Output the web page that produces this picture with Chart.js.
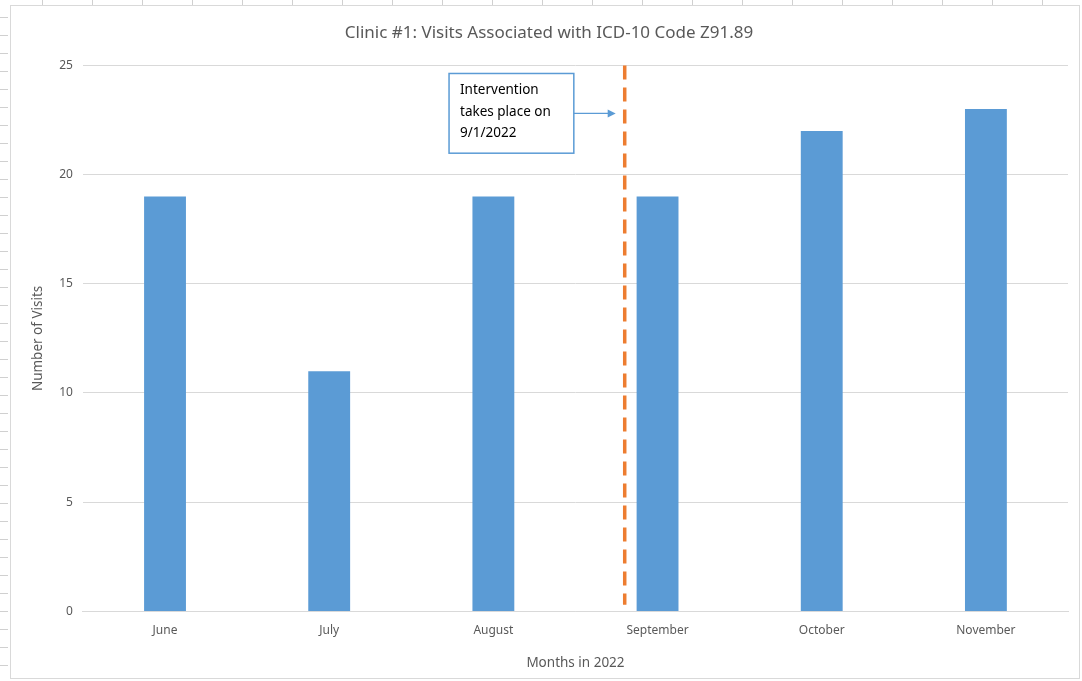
<!DOCTYPE html>
<html lang="en">
<head>
    <meta charset="UTF-8">
    <title>Clinic #1 Visits</title>
    <script src="https://cdn.jsdelivr.net/npm/chart.js"></script>
    <style>
        body {
            margin: 0;
            background: #fff;
            font-family: "Noto Sans", sans-serif;
        }
        #page {
            position: relative;
            width: 1082px;
            height: 681px;
            overflow: hidden;
            /* spreadsheet ruler marks behind the chart */
            background:
                repeating-linear-gradient(90deg, transparent 0 42px, #d0d0d0 42px 43px, transparent 43px 50px) top left / 100% 6px no-repeat,
                repeating-linear-gradient(180deg, transparent 0 17px, #d0d0d0 17px 18px) top left / 8px 100% no-repeat;
        }
        #frame {
            position: absolute;
            left: 10px;
            top: 5px;
            width: 1068px;
            height: 672px;
            border: 1px solid #d9d9d9;
            background: #fff;
        }
    </style>
</head>
<body>
<div id="page">
    <div id="frame"><canvas id="visitsChart"></canvas></div>
</div>

<script>
    const months = ['June', 'July', 'August', 'September', 'October', 'November'];
    const visits = [19, 11, 19, 19, 22, 23];
    const yTicks = [0, 5, 10, 15, 20, 25];
    // where the intervention line sits on the category axis (between Aug and Sep)
    const interventionPos = 2.8;
    const noteLines = ['Intervention', 'takes place on', '9/1/2022'];

    const interventionPlugin = {
        id: 'intervention',
        afterDatasetsDraw(chart) {
            const { ctx, scales: { x, y } } = chart;
            const lx = x.getPixelForValue(interventionPos);

            ctx.save();
            // dashed orange line
            ctx.strokeStyle = '#ED7D31';
            ctx.lineWidth = 3.5;
            ctx.setLineDash([14, 8]);
            ctx.beginPath();
            ctx.moveTo(lx, y.getPixelForValue(25));
            ctx.lineTo(lx, y.getPixelForValue(0.3));
            ctx.stroke();
            ctx.setLineDash([]);

            // text box
            const bx1 = x.getPixelForValue(1.73);
            const bx2 = x.getPixelForValue(2.49);
            const by1 = y.getPixelForValue(24.63);
            const by2 = y.getPixelForValue(20.98);
            ctx.fillStyle = '#fff';
            ctx.fillRect(bx1, by1, bx2 - bx1, by2 - by1);
            ctx.strokeStyle = '#5B9BD5';
            ctx.lineWidth = 1.5;
            ctx.strokeRect(bx1, by1, bx2 - bx1, by2 - by1);

            ctx.fillStyle = '#000';
            ctx.font = '13.5px "Noto Sans"';
            ctx.textBaseline = 'middle';
            ctx.textAlign = 'left';
            noteLines.forEach((t, i) => {
                ctx.fillText(t, bx1 + 11, by1 + 17 + i * 21.5);
            });

            // arrow from box to line
            const ay = y.getPixelForValue(22.8);
            const tip = lx - 9;
            ctx.strokeStyle = '#5B9BD5';
            ctx.fillStyle = '#5B9BD5';
            ctx.lineWidth = 1.2;
            ctx.beginPath();
            ctx.moveTo(bx2, ay);
            ctx.lineTo(tip - 6, ay);
            ctx.stroke();
            ctx.beginPath();
            ctx.moveTo(tip, ay);
            ctx.lineTo(tip - 8, ay - 4);
            ctx.lineTo(tip - 8, ay + 4);
            ctx.closePath();
            ctx.fill();
            ctx.restore();
        }
    };

    const ctx = document.getElementById('visitsChart').getContext('2d');
    new Chart(ctx, {
        type: 'bar',
        data: {
            labels: months,
            datasets: [{
                label: 'Visits',
                data: visits,
                backgroundColor: '#5B9BD5',
                borderWidth: 0,
                categoryPercentage: 1.0,
                barPercentage: 0.255
            }]
        },
        options: {
            responsive: true,
            maintainAspectRatio: false,
            animation: false,
            layout: {
                padding: { left: 19, right: 11, top: 17, bottom: 7 }
            },
            plugins: {
                legend: { display: false },
                tooltip: { enabled: false },
                title: {
                    display: true,
                    text: 'Clinic #1: Visits Associated with ICD-10 Code Z91.89',
                    color: '#595959',
                    font: { family: 'Noto Sans', size: 17, weight: 'normal' },
                    padding: { top: 0, bottom: 22 }
                }
            },
            scales: {
                x: {
                    grid: { display: false, drawTicks: false },
                    border: { display: true, color: '#d9d9d9', width: 1 },
                    ticks: {
                        color: '#595959',
                        font: { family: 'Noto Sans', size: 12 },
                        padding: 12
                    },
                    title: {
                        display: true,
                        text: 'Months in 2022',
                        color: '#595959',
                        font: { family: 'Noto Sans', size: 13.5 },
                        padding: { top: 5, bottom: 0 }
                    }
                },
                y: {
                    min: 0,
                    max: 25,
                    afterBuildTicks(axis) {
                        axis.ticks = yTicks.map(v => ({ value: v }));
                    },
                    grid: { color: '#d9d9d9', drawTicks: false },
                    border: { display: false },
                    ticks: {
                        color: '#595959',
                        font: { family: 'Noto Sans', size: 12 },
                        padding: 10
                    },
                    title: {
                        display: true,
                        text: 'Number of Visits',
                        color: '#595959',
                        font: { family: 'Noto Sans', size: 13.5 },
                        padding: { top: 0, bottom: 3 }
                    }
                }
            }
        },
        plugins: [interventionPlugin]
    });
</script>
</body>
</html>
